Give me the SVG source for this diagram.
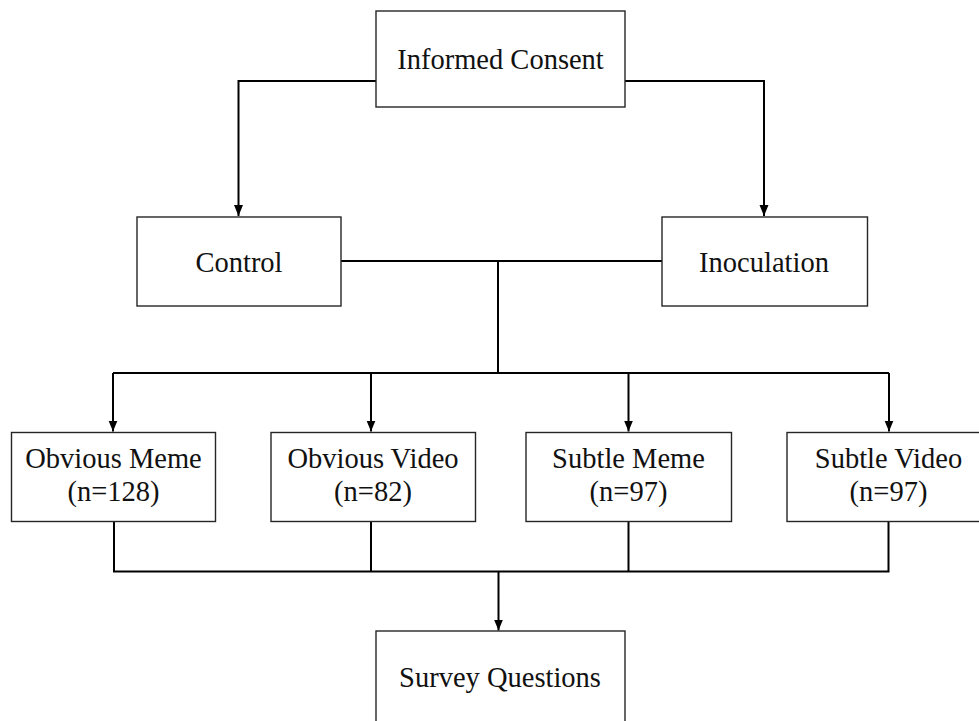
<svg xmlns="http://www.w3.org/2000/svg" width="979" height="721" viewBox="0 0 979 721">
<style>
.box{fill:#fff;stroke:#262626;stroke-width:1.4}
.lbl{font-family:'Liberation Serif','Times New Roman',Times,serif;font-size:28.5px;fill:#111;text-anchor:middle}
.ln{fill:none;stroke:#000;stroke-width:2}
</style>
<defs>
<marker id="ad" markerUnits="userSpaceOnUse" markerWidth="10" markerHeight="11" refX="5" refY="11" orient="0" viewBox="0 0 10 11">
<path d="M0.5,0 L9.5,0 L5,11 Z" fill="#000"/>
</marker>
</defs>
<rect width="979" height="721" fill="#fff"/>
<g id="connectors">
<path class="ln" d="M376,81 H238.5 V216" marker-end="url(#ad)"/>
<path class="ln" d="M625,81 H764 V216" marker-end="url(#ad)"/>
<path class="ln" d="M341,261 H662"/>
<path class="ln" d="M498,261 V373"/>
<path class="ln" d="M113,373 H889"/>
<path class="ln" d="M113,373 V431.5" marker-end="url(#ad)"/>
<path class="ln" d="M371,373 V431.5" marker-end="url(#ad)"/>
<path class="ln" d="M628.5,373 V431.5" marker-end="url(#ad)"/>
<path class="ln" d="M889,373 V431.5" marker-end="url(#ad)"/>
<path class="ln" d="M114,521.5 V571.5 H888.5 V521.5"/>
<path class="ln" d="M371,521.5 V571.5"/>
<path class="ln" d="M628.5,521.5 V571.5"/>
<path class="ln" d="M498.5,571.5 V630.5" marker-end="url(#ad)"/>
</g>
<g id="informed-consent">
<rect class="box" x="376" y="11" width="249" height="96"/>
<text class="lbl" x="500.5" y="69">Informed Consent</text>
</g>
<g id="control">
<rect class="box" x="137" y="217" width="204" height="89"/>
<text class="lbl" x="239" y="272">Control</text>
</g>
<g id="inoculation">
<rect class="box" x="662" y="217" width="205.5" height="89"/>
<text class="lbl" x="764" y="272">Inoculation</text>
</g>
<g id="obvious-meme">
<rect class="box" x="11.5" y="432.5" width="204" height="89"/>
<text class="lbl" x="113.5" y="468">Obvious Meme</text>
<text class="lbl" x="113.5" y="501">(n=128)</text>
</g>
<g id="obvious-video">
<rect class="box" x="271" y="432.5" width="204.5" height="89"/>
<text class="lbl" x="373" y="468">Obvious Video</text>
<text class="lbl" x="373" y="501">(n=82)</text>
</g>
<g id="subtle-meme">
<rect class="box" x="526" y="432.5" width="205.5" height="89"/>
<text class="lbl" x="628.5" y="468">Subtle Meme</text>
<text class="lbl" x="628.5" y="501">(n=97)</text>
</g>
<g id="subtle-video">
<rect class="box" x="787" y="432.5" width="205" height="89"/>
<text class="lbl" x="888.5" y="468">Subtle Video</text>
<text class="lbl" x="888.5" y="501">(n=97)</text>
</g>
<g id="survey-questions">
<rect class="box" x="376" y="631" width="249" height="110"/>
<text class="lbl" x="500" y="687">Survey Questions</text>
</g>
</svg>
